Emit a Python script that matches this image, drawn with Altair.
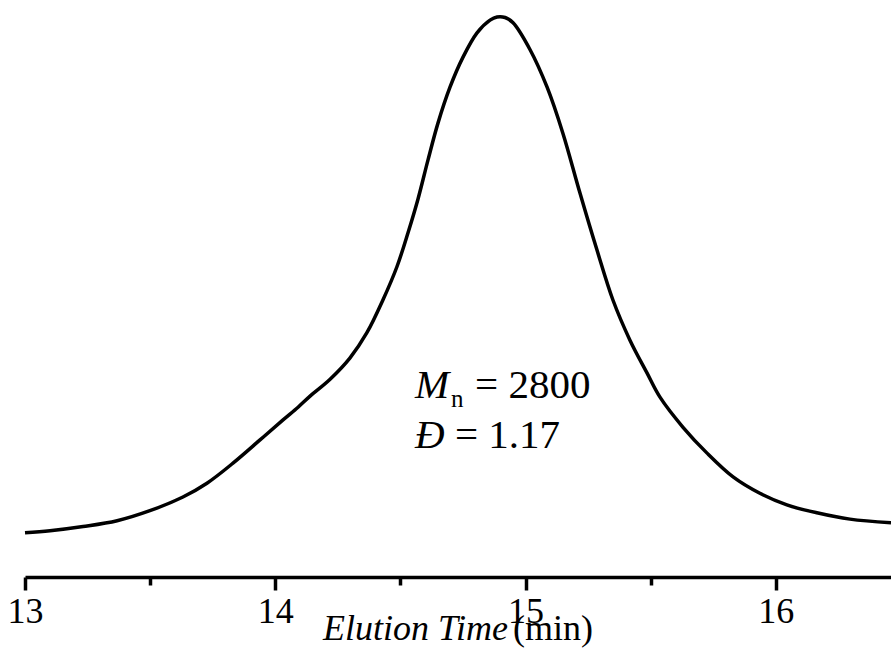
import altair as alt
import pandas as pd

# Elution time (min) and normalised detector signal
time_min = [13.000, 13.100, 13.232, 13.368, 13.499, 13.631, 13.727, 13.831, 13.939,
            14.031, 14.091, 14.139, 14.219, 14.298, 14.366, 14.430, 14.486, 14.530,
            14.570, 14.610, 14.650, 14.698, 14.750, 14.806, 14.858, 14.886, 14.918,
            14.950, 15.018, 15.086, 15.149, 15.217, 15.285, 15.349, 15.417, 15.485,
            15.537, 15.629, 15.725, 15.829, 15.936, 16.044, 16.164, 16.296, 16.460]
signal = [0.023, 0.027, 0.035, 0.046, 0.065, 0.091, 0.117, 0.155, 0.199,
          0.237, 0.261, 0.282, 0.314, 0.354, 0.402, 0.464, 0.527, 0.591,
          0.655, 0.729, 0.799, 0.867, 0.924, 0.970, 0.994, 1.000, 0.999,
          0.989, 0.938, 0.867, 0.780, 0.667, 0.559, 0.464, 0.388, 0.326,
          0.280, 0.223, 0.174, 0.129, 0.098, 0.076, 0.061, 0.049, 0.042]

tick_values = [13, 13.5, 14, 14.5, 15, 15.5, 16]

# Annotation texts
italic_texts = ["M", "Đ"]
italic_x = [14.558, 14.558]
italic_y = [0.2784, 0.1837]

normal_texts = ["= 2800", "= 1.17"]
normal_x = [14.798, 14.718]
normal_y = [0.2784, 0.1837]

sub_texts = ["n"]
sub_x = [14.702]
sub_y = [0.2614]

title_italic = ["Elution Time"]
title_italic_x = [14.930]
title_normal = ["(min)"]
title_normal_x = [14.950]
title_y = [-0.1799]

FONT = "Liberation Serif, Times New Roman, Times, serif"
X_DOMAIN = [13, 16.46]
Y_DOMAIN = [-0.0606, 1.0322]

df = pd.DataFrame({"t": time_min, "s": signal})

xscale = alt.Scale(domain=X_DOMAIN, nice=False, zero=False)
yscale = alt.Scale(domain=Y_DOMAIN, nice=False, zero=False)

line = alt.Chart(df).mark_line(
    color="black", strokeWidth=3.5, interpolate="catmull-rom"
).encode(
    x=alt.X("t:Q", scale=xscale, axis=alt.Axis(
        values=tick_values,
        title=None,
        grid=False,
        domainColor="black",
        domainWidth=3.5,
        tickColor="black",
        tickWidth=3.5,
        tickSize={"condition": {"test": "datum.value % 1 === 0", "value": 13}, "value": 8},
        labelExpr="datum.value % 1 === 0 ? format(datum.value, 'd') : ''",
        labelFont=FONT,
        labelFontSize=36,
        labelColor="black",
        labelPadding=4,
        labelFlush=False,
        labelOverlap=False,
    )),
    y=alt.Y("s:Q", scale=yscale, axis=None),
)


def text_layer(texts, xs, ys, size, italic, align):
    d = pd.DataFrame({"x": xs, "y": ys, "text": texts})
    kw = dict(font=FONT, fontSize=size, color="black", align=align, baseline="alphabetic")
    if italic:
        kw["fontStyle"] = "italic"
    return alt.Chart(d).mark_text(**kw).encode(
        x=alt.X("x:Q", scale=xscale),
        y=alt.Y("y:Q", scale=yscale),
        text="text:N",
    )


layers = [
    line,
    text_layer(italic_texts, italic_x, italic_y, 41, True, "left"),
    text_layer(normal_texts, normal_x, normal_y, 41, False, "left"),
    text_layer(sub_texts, sub_x, sub_y, 25, False, "left"),
    text_layer(title_italic, title_italic_x, title_y, 36, True, "right"),
    text_layer(title_normal, title_normal_x, title_y, 36, False, "left"),
]

chart = alt.layer(*layers).properties(
    width=866,
    height=577,
    autosize=alt.AutoSizeParams(type="none"),
    padding={"left": 25, "top": 0, "right": 0, "bottom": 85},
    background="white",
).configure_view(stroke=None)

chart.save("out.html", embed_options={"renderer": "svg", "actions": False})
